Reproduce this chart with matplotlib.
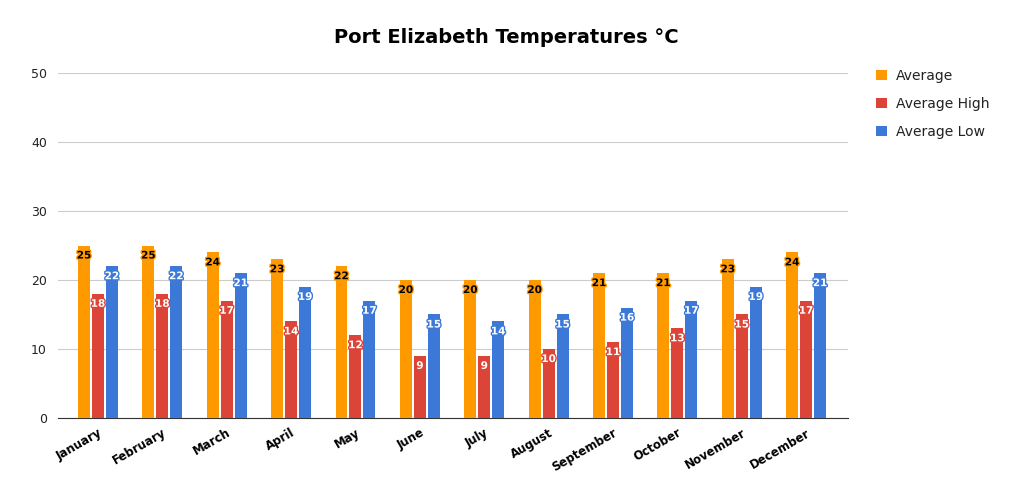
import numpy as np
import matplotlib.pyplot as plt
import matplotlib.patheffects as pe

months = ['January', 'February', 'March', 'April', 'May', 'June', 'July',
          'August', 'September', 'October', 'November', 'December']
average = [25, 25, 24, 23, 22, 20, 20, 20, 21, 21, 23, 24]
average_high = [18, 18, 17, 14, 12, 9, 9, 10, 11, 13, 15, 17]
average_low = [22, 22, 21, 19, 17, 15, 14, 15, 16, 17, 19, 21]


def main():
    fig = plt.figure(figsize=(10.13, 4.91), dpi=100)
    ax = fig.add_axes([0.0573, 0.1487, 0.7798, 0.7026])

    x = np.arange(len(months))
    w = 0.186
    step = 0.217
    series = [(average, '#FF9900', 'Average', 'black'),
              (average_high, '#DB4437', 'Average High', 'white'),
              (average_low, '#3C78D8', 'Average Low', 'white')]

    for k, (vals, col, name, tcol) in enumerate(series):
        xs = x + (k - 1) * step
        ax.bar(xs, vals, width=w, color=col, label=name, zorder=3)
        for xi, v in zip(xs, vals):
            ax.text(xi, v - 1.45, str(v), ha='center', va='center',
                    fontsize=7.5, fontweight='bold', color=tcol, zorder=4,
                    path_effects=[pe.withStroke(linewidth=2, foreground=col)])

    ax.set_xlim(-0.62, 11.65)
    ax.set_ylim(0, 50)
    ax.set_yticks([0, 10, 20, 30, 40, 50])
    ax.yaxis.grid(True, color='#cccccc', linewidth=0.8, zorder=0)
    for s in ['top', 'right', 'left']:
        ax.spines[s].set_visible(False)
    ax.spines['bottom'].set_color('#333333')
    ax.tick_params(axis='both', length=0)
    ax.tick_params(axis='y', labelsize=9, colors='#222222', pad=8)
    ax.tick_params(axis='x', pad=6)
    ax.set_xticks(x)
    ax.set_xticklabels(months, rotation=30, ha='right', rotation_mode='anchor',
                       fontsize=8.5, fontweight='bold')

    fig.suptitle('Port Elizabeth Temperatures °C', x=0.5, y=0.942,
                 fontsize=14, fontweight='bold')

    ax.legend(loc='upper left', bbox_to_anchor=(1.02, 1.048), frameon=False,
              fontsize=10, handlelength=0.8, handleheight=0.8,
              labelspacing=1.0, handletextpad=0.6, labelcolor='#222222')

    plt.savefig('out.png')


if __name__ == "__main__":
    main()
